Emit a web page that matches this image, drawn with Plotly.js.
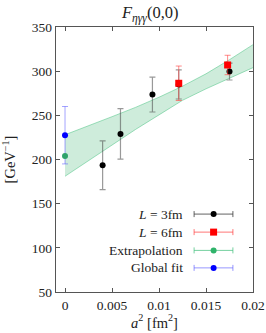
<!DOCTYPE html>
<html><head><meta charset="utf-8">
<script src="https://cdn.plot.ly/plotly-3.0.1.min.js"></script>
<style>html,body{margin:0;padding:0;background:#fff;}#chart{width:266px;height:333px;}</style>
</head><body><div id="chart"></div>
<script>
// L = 3fm
const l3_x = [0.0040, 0.0059, 0.0093, 0.0121, 0.0175];
const l3_y = [193.5, 229, 273.5, 285, 299.5];
const l3_err = [27.5, 28.5, 19.7, 16.5, 9.5];
// L = 6fm
const l6_x = [0.0121, 0.0173];
const l6_y = [286.3, 307];
const l6_err = [19.5, 11];
// Extrapolation
const ex_x = [0];
const ex_y = [204];
// Global fit
const gf_x = [0];
const gf_y = [227.5];
const gf_err = [32.5];
// Fit band
const band_x = [0, 0.0025, 0.005, 0.0075, 0.01, 0.0125, 0.015, 0.0175, 0.02];
const band_lo = [181, 199, 216.5, 234, 250.5, 267, 280, 292, 304];
const band_hi = [228, 238, 248.5, 259, 270.5, 283, 297, 313, 330];
// Legend labels
const legendLabels = ['<i>L</i> = 3fm', '<i>L</i> = 6fm', 'Extrapolation', 'Global fit'];
const legendColors = ['#000000', '#ff0000', '#2fb36a', '#0000ff'];
const legendBarColors = ['rgba(60,60,60,0.8)', 'rgba(255,60,60,0.7)', 'rgba(60,190,120,0.7)', 'rgba(80,80,255,0.6)'];
const legendSymbols = ['circle', 'square', 'circle', 'circle'];

const serif = 'Liberation Serif, DejaVu Serif, serif';
const traces = [
  {x: band_x, y: band_lo, mode: 'lines', line: {color: 'rgba(60,190,120,0.6)', width: 0.8}, hoverinfo: 'skip', showlegend: false},
  {x: band_x, y: band_hi, mode: 'lines', fill: 'tonexty', fillcolor: 'rgba(60,180,110,0.25)', line: {color: 'rgba(60,190,120,0.6)', width: 0.8}, showlegend: false},
  {x: gf_x, y: gf_y, mode: 'markers', marker: {color: '#0000ff', size: 6},
   error_y: {type: 'data', array: gf_err, color: 'rgba(90,90,255,0.55)', thickness: 1, width: 3}, showlegend: false},
  {x: ex_x, y: ex_y, mode: 'markers', marker: {color: '#2fa36a', size: 6}, showlegend: false},
  {x: l3_x, y: l3_y, mode: 'markers', marker: {color: '#000', size: 6},
   error_y: {type: 'data', array: l3_err, color: 'rgba(70,70,70,0.55)', thickness: 1.2, width: 3}, showlegend: false},
  {x: l6_x, y: l6_y, mode: 'markers', marker: {color: '#ff0000', size: 7, symbol: 'square'},
   error_y: {type: 'data', array: l6_err, color: 'rgba(255,60,60,0.6)', thickness: 1, width: 3}, showlegend: false}
];

const annotations = [];
const shapes = [];
const rowY = [0.294, 0.226, 0.157, 0.091];
legendLabels.forEach((t, i) => {
  annotations.push({xref: 'paper', yref: 'paper', x: 0.655, y: rowY[i], xanchor: 'right', yanchor: 'middle',
    text: t, showarrow: false, font: {family: serif, size: 13.5, color: '#222'}});
  shapes.push({type: 'line', xref: 'paper', yref: 'paper', x0: 0.701, x1: 0.898, y0: rowY[i], y1: rowY[i],
    line: {color: legendBarColors[i], width: 1}});
  [0.701, 0.898].forEach(cx => shapes.push({type: 'line', xref: 'paper', yref: 'paper', x0: cx, x1: cx,
    ysizemode: 'pixel', yanchor: rowY[i], y0: -3, y1: 3, line: {color: legendBarColors[i], width: 1}}));
  const r = legendSymbols[i] === 'square' ? 3.5 : 3;
  shapes.push({type: legendSymbols[i] === 'square' ? 'rect' : 'circle', xref: 'paper', yref: 'paper',
    xsizemode: 'pixel', ysizemode: 'pixel', xanchor: 0.8, yanchor: rowY[i], x0: -r, x1: r, y0: -r, y1: r,
    fillcolor: legendColors[i], line: {width: 0}});
});

const axisCommon = {showgrid: false, zeroline: false, showline: true, mirror: 'ticks', linecolor: '#555', linewidth: 1.3,
  ticks: 'inside', ticklen: 4, tickcolor: '#555', tickfont: {family: serif, size: 13.5, color: '#222'}};

const layout = {
  width: 266, height: 333,
  margin: {l: 56, r: 13, t: 27, b: 41},
  paper_bgcolor: '#fff', plot_bgcolor: '#fff',
  showlegend: false,
  title: {text: '<i>F</i><sub><i>ηγγ</i></sub>(0,0)', font: {family: serif, size: 16.5, color: '#222'}, x: 0.565, xanchor: 'center', y: 0.962, yanchor: 'middle'},
  xaxis: Object.assign({}, axisCommon, {range: [-0.00096, 0.02], tickvals: [0, 0.005, 0.01, 0.015, 0.02],
    ticktext: ['0', '0.005', '0.01', '0.015', '0.02'],
    title: {text: '<i>a</i><sup>2</sup> [fm<sup>2</sup>]', font: {family: serif, size: 14.5, color: '#222'}, standoff: 4}}),
  yaxis: Object.assign({}, axisCommon, {range: [50, 350], tickvals: [50, 100, 150, 200, 250, 300, 350],
    title: {text: '[GeV<sup>−1</sup>]', font: {family: serif, size: 14.5, color: '#222'}, standoff: 12}}),
  annotations: annotations,
  shapes: shapes
};
Plotly.newPlot('chart', traces, layout, {displayModeBar: false, staticPlot: true});
</script></body></html>
